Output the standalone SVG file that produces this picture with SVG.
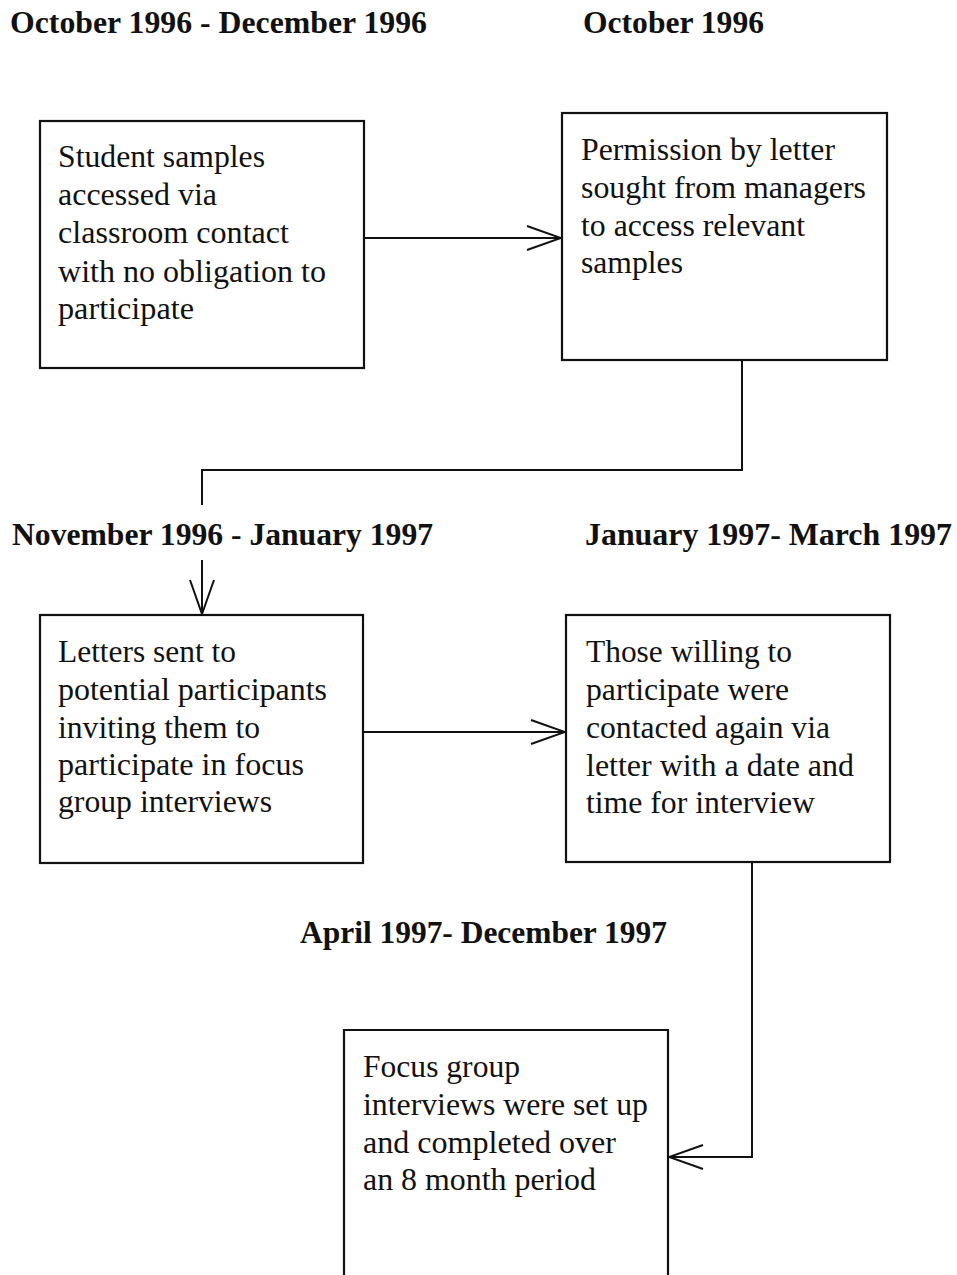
<svg xmlns="http://www.w3.org/2000/svg" width="957" height="1275" viewBox="0 0 957 1275">
<style>
  .hdr { font-family: "Liberation Serif", "Times New Roman", serif; font-weight: bold; font-size: 31px; fill: #111; }
  .txt { font-family: "Liberation Serif", "Times New Roman", serif; font-size: 31px; fill: #111; }
  .box { fill: none; stroke: #111; stroke-width: 2.2; }
  .conn { fill: none; stroke: #111; stroke-width: 2; }
</style>
<defs>
  <marker id="vhead" viewBox="0 0 38 28" refX="36" refY="14" markerWidth="38" markerHeight="28" markerUnits="userSpaceOnUse" orient="auto">
    <path d="M2,2 L36,14 L2,26" fill="none" stroke="#111" stroke-width="2"/>
  </marker>
</defs>
<rect width="957" height="1275" fill="#fff"/>

<g id="headers">
  <text class="hdr" x="10" y="33" textLength="417" lengthAdjust="spacingAndGlyphs">October 1996 - December 1996</text>
  <text class="hdr" x="583" y="33" textLength="181" lengthAdjust="spacingAndGlyphs">October 1996</text>
  <text class="hdr" x="12" y="545" textLength="421" lengthAdjust="spacingAndGlyphs">November 1996 - January 1997</text>
  <text class="hdr" x="585" y="545" textLength="367" lengthAdjust="spacingAndGlyphs">January 1997- March 1997</text>
  <text class="hdr" x="300" y="943" textLength="367" lengthAdjust="spacingAndGlyphs">April 1997- December 1997</text>
</g>

<g id="node-student-samples">
  <rect class="box" x="40" y="121" width="324" height="247"/>
  <text class="txt" x="58" y="167" textLength="207" lengthAdjust="spacingAndGlyphs">Student samples</text>
  <text class="txt" x="58" y="205" textLength="159" lengthAdjust="spacingAndGlyphs">accessed via</text>
  <text class="txt" x="58" y="243" textLength="231" lengthAdjust="spacingAndGlyphs">classroom contact</text>
  <text class="txt" x="58" y="282" textLength="268" lengthAdjust="spacingAndGlyphs">with no obligation to</text>
  <text class="txt" x="58" y="319" textLength="136" lengthAdjust="spacingAndGlyphs">participate</text>
</g>

<g id="node-permission">
  <rect class="box" x="562" y="113" width="325" height="247"/>
  <text class="txt" x="581" y="160" textLength="254" lengthAdjust="spacingAndGlyphs">Permission by letter</text>
  <text class="txt" x="581" y="198" textLength="285" lengthAdjust="spacingAndGlyphs">sought from managers</text>
  <text class="txt" x="581" y="236" textLength="224" lengthAdjust="spacingAndGlyphs">to access relevant</text>
  <text class="txt" x="581" y="273" textLength="102" lengthAdjust="spacingAndGlyphs">samples</text>
</g>

<g id="node-letters-sent">
  <rect class="box" x="40" y="615" width="323" height="248"/>
  <text class="txt" x="58" y="662" textLength="178" lengthAdjust="spacingAndGlyphs">Letters sent to</text>
  <text class="txt" x="58" y="700" textLength="269" lengthAdjust="spacingAndGlyphs">potential participants</text>
  <text class="txt" x="58" y="738" textLength="202" lengthAdjust="spacingAndGlyphs">inviting them to</text>
  <text class="txt" x="58" y="775" textLength="246" lengthAdjust="spacingAndGlyphs">participate in focus</text>
  <text class="txt" x="58" y="812" textLength="214" lengthAdjust="spacingAndGlyphs">group interviews</text>
</g>

<g id="node-those-willing">
  <rect class="box" x="566" y="615" width="324" height="247"/>
  <text class="txt" x="586" y="662" textLength="206" lengthAdjust="spacingAndGlyphs">Those willing to</text>
  <text class="txt" x="586" y="700" textLength="203" lengthAdjust="spacingAndGlyphs">participate were</text>
  <text class="txt" x="586" y="738" textLength="244" lengthAdjust="spacingAndGlyphs">contacted again via</text>
  <text class="txt" x="586" y="776" textLength="268" lengthAdjust="spacingAndGlyphs">letter with a date and</text>
  <text class="txt" x="586" y="813" textLength="229" lengthAdjust="spacingAndGlyphs">time for interview</text>
</g>

<g id="node-focus-group">
  <path class="box" d="M344,1280 V1030 H668 V1280"/>
  <text class="txt" x="363" y="1077" textLength="157" lengthAdjust="spacingAndGlyphs">Focus group</text>
  <text class="txt" x="363" y="1115" textLength="285" lengthAdjust="spacingAndGlyphs">interviews were set up</text>
  <text class="txt" x="363" y="1153" textLength="253" lengthAdjust="spacingAndGlyphs">and completed over</text>
  <text class="txt" x="363" y="1190" textLength="233" lengthAdjust="spacingAndGlyphs">an 8 month period</text>
</g>

<g id="connectors">
  <path class="conn" d="M364,238 H561" marker-end="url(#vhead)"/>
  <path class="conn" d="M742,360 V470 H202 V505"/>
  <path class="conn" d="M202,560 V614" marker-end="url(#vhead)"/>
  <path class="conn" d="M363,732 H565" marker-end="url(#vhead)"/>
  <path class="conn" d="M752,862 V1157 H669" marker-end="url(#vhead)"/>
</g>
</svg>
